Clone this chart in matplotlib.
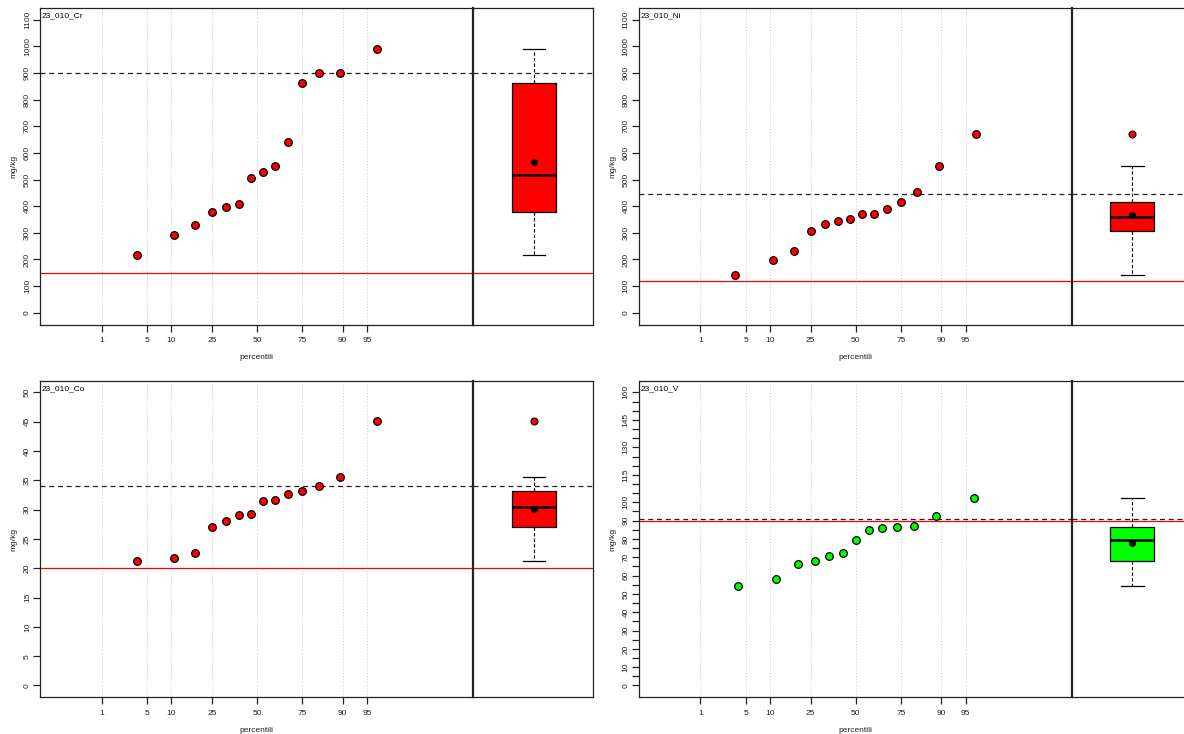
from statistics import NormalDist
import numpy as np
import matplotlib
matplotlib.use("Agg")
import matplotlib.pyplot as plt

plt.rcParams['font.family'] = ['Liberation Sans', 'DejaVu Sans']

# data (sorted values per element)
names = ["23_010_Cr", "23_010_Ni", "23_010_Co", "23_010_V"]
cr = [215, 291, 331, 378, 396, 408, 506, 527, 550, 641, 862, 901, 901, 991]
ni = [141, 198, 233, 306, 335, 346, 352, 370, 370, 388, 416, 454, 551, 672]
co = [21.3, 21.8, 22.6, 27.0, 28.0, 29.1, 29.3, 31.5, 31.6, 32.7, 33.1, 34.0, 35.6, 45.1]
v = [54.5, 58.0, 66.5, 67.8, 70.7, 72.4, 79.6, 84.7, 86.0, 86.4, 87.3, 92.4, 102.2]
series = [cr, ni, co, v]
red_lines = [150, 120, 20, 90]
dash_lines = [900, 446, 34, 91]
fills = ['#ff0000', '#ff0000', '#ff0000', '#00ff00']
y_max = [1100, 1100, 50, 160]
y_step = [100, 100, 5, 5]
v_labels = [0, 10, 20, 30, 40, 50, 60, 70, 80, 90, 100, 115, 130, 145, 160]
pct_ticks = [1, 5, 10, 25, 50, 75, 90, 95]

W, H = 1184, 734
nd = NormalDist()


def fwd(p):
    p = np.clip(np.asarray(p, dtype=float) / 100.0, 1e-12, 1 - 1e-12)
    return np.vectorize(nd.inv_cdf, otypes=[float])(p)


def inv(q):
    return np.vectorize(nd.cdf, otypes=[float])(np.asarray(q, dtype=float)) * 100.0


def fivenum(x):
    x = sorted(x)
    n = len(x)
    n4 = np.floor((n + 3) / 2) / 2
    d = [1, n4, (n + 1) / 2, n + 1 - n4, n]
    return [0.5 * (x[int(np.floor(i)) - 1] + x[int(np.ceil(i)) - 1]) for i in d]


def box_stats(x):
    h = fivenum(x)
    iqr = h[3] - h[1]
    lo, hi = h[1] - 1.5 * iqr, h[3] + 1.5 * iqr
    inside = [a for a in x if lo <= a <= hi]
    return dict(med=h[2], q1=h[1], q3=h[3], whislo=min(inside), whishi=max(inside),
                fliers=[a for a in x if a < lo or a > hi], mean=float(np.mean(x)))


fig = plt.figure(figsize=(W / 100, H / 100), dpi=100)

# panel origins in pixels (left edge, top edge)
origins = [(40, 8), (638.7, 8), (40, 380.7), (638.7, 380.7)]
w_left, w_right, h_ax = 433, 120, 316.5

for k in range(4):
    x0, y0 = origins[k]
    vals = series[k]
    ymax = y_max[k]
    pad = ymax * 0.04

    ax = fig.add_axes([x0 / W, 1 - (y0 + h_ax) / H, w_left / W, h_ax / H])
    bax = fig.add_axes([(x0 + w_left) / W, 1 - (y0 + h_ax) / H, w_right / W, h_ax / H])

    ax.set_xscale('function', functions=(fwd, inv))
    ax.set_xlim(inv(-3.249), inv(3.234))
    for a in (ax, bax):
        a.set_ylim(-pad, ymax + pad)
        a.axhline(red_lines[k], color='#ff0000', lw=0.9, zorder=1)
        a.axhline(dash_lines[k], color='#222222', lw=0.9, ls=(0, (4, 3)), zorder=1)
        for s in a.spines.values():
            s.set_linewidth(0.9)
            s.set_color('#222222')

    for p in pct_ticks:
        ax.axvline(p, color='#c8c8c8', lw=0.7, ls=(0, (1, 2)), zorder=0)

    n = len(vals)
    pp = [(i - 0.5) / n * 100 for i in range(1, n + 1)]
    ax.plot(pp, vals, 'o', mfc=fills[k], mec='black', ms=5.5, mew=0.9, zorder=3)

    ax.set_xticks(pct_ticks)
    ax.set_xticklabels([str(p) for p in pct_ticks])
    ax.xaxis.set_minor_locator(matplotlib.ticker.NullLocator())
    ticks = list(range(0, ymax + 1, y_step[k]))
    ax.set_yticks(ticks)
    if k == 3:
        labels = [str(t) if t in v_labels else '' for t in ticks]
    else:
        labels = [str(t) for t in ticks]
    ax.set_yticklabels(labels, rotation=90, va='center')
    ax.tick_params(axis='x', length=5, width=0.9, pad=4, labelsize=6, colors='#222222')
    ax.tick_params(axis='y', length=5, width=0.9, pad=1.5, labelsize=6, colors='#222222')
    ax.spines['right'].set_visible(False)

    ax.text(0.004, 0.985, names[k], transform=ax.transAxes, ha='left', va='top', fontsize=6)

    bax.set_xlim(0, 1)
    bax.set_xticks([])
    bax.tick_params(left=False, labelleft=False)
    bax.spines['left'].set_linewidth(1.6)
    bax.bxp([box_stats(vals)], positions=[0.506], widths=0.367, patch_artist=True,
            showmeans=True, manage_ticks=False, capwidths=0.185,
            boxprops=dict(facecolor=fills[k], edgecolor='black', lw=0.9),
            medianprops=dict(color='black', lw=1.8),
            whiskerprops=dict(color='black', lw=0.8, ls=(0, (3, 2))),
            capprops=dict(color='black', lw=0.9),
            flierprops=dict(marker='o', mfc=fills[k], mec='black', ms=5, mew=0.8),
            meanprops=dict(marker='o', mfc='black', mec='black', ms=4))

    fig.text((x0 + w_left / 2) / W, 1 - (y0 + h_ax + 33) / H, 'percentili',
             ha='center', va='center', fontsize=6, color='#222222')
    fig.text((x0 - 26) / W, 1 - (y0 + h_ax / 2) / H, 'mg/kg', rotation=90,
             ha='center', va='center', fontsize=6, color='#222222')

fig.savefig('out.png', dpi=100)
